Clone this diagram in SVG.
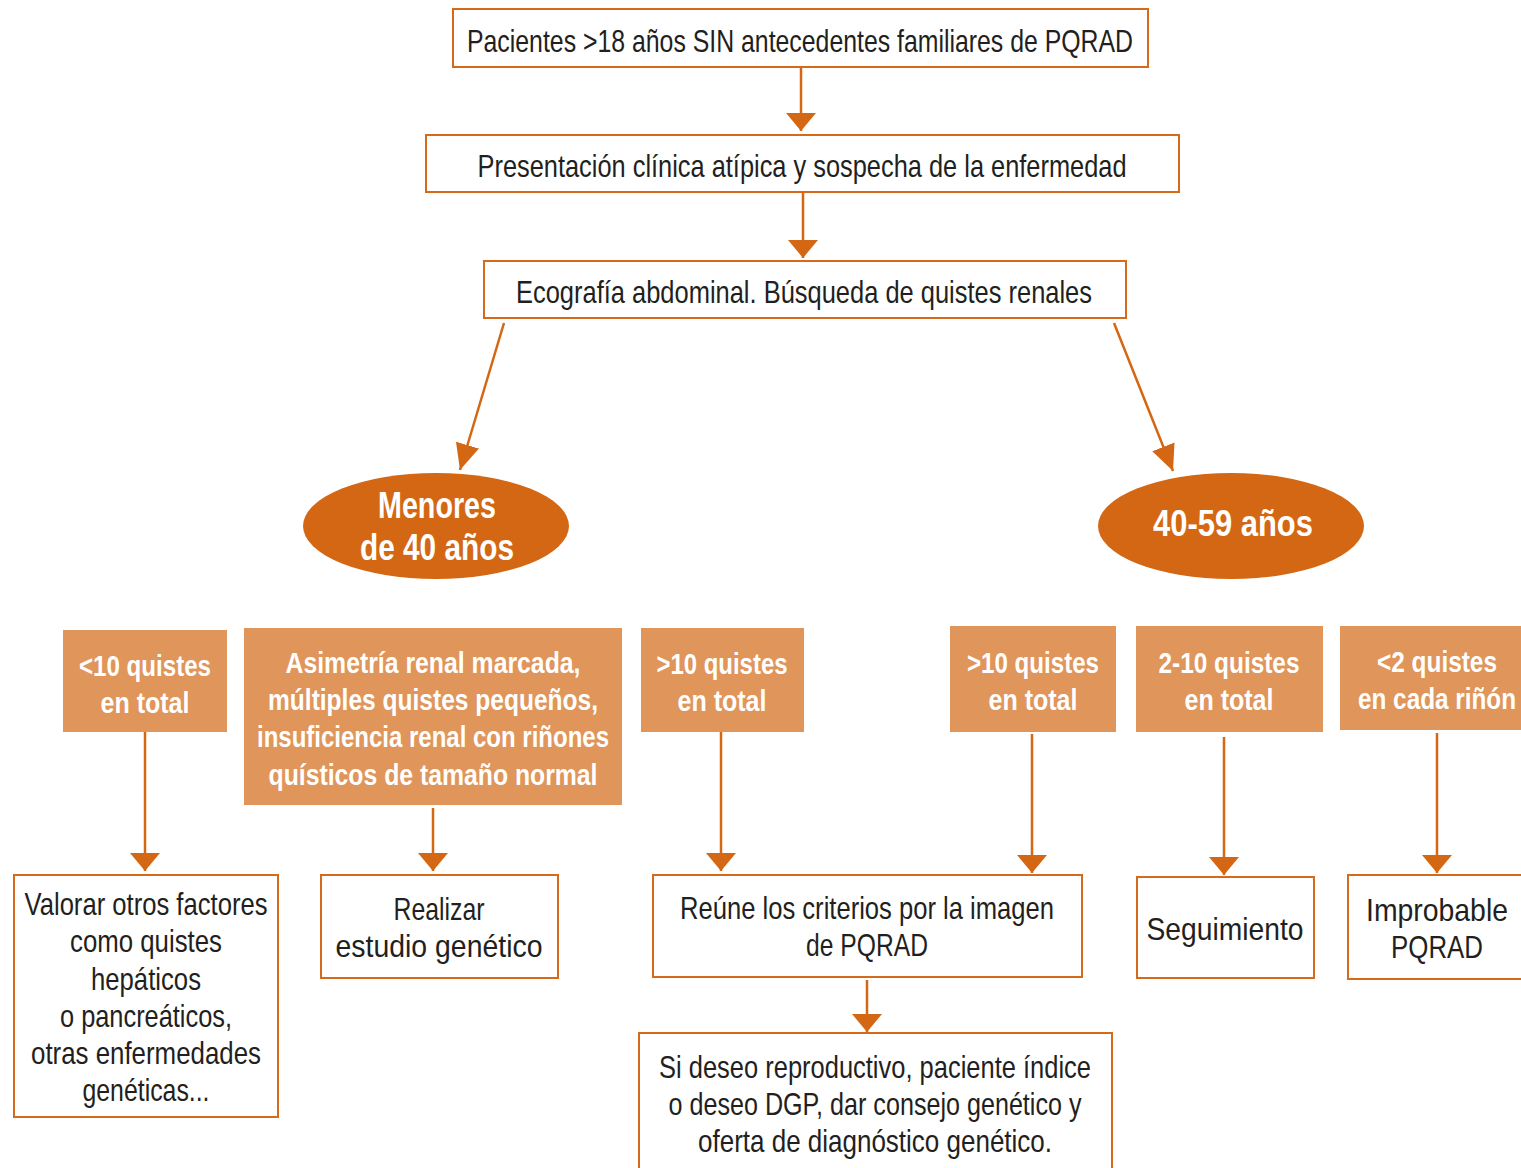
<svg xmlns="http://www.w3.org/2000/svg" width="1521" height="1168" viewBox="0 0 1521 1168">
<defs>
<style>
.wb{fill:#fff;stroke:#D46A1A;stroke-width:2}
.lb{fill:#E0955A}
.el{fill:#D46713}
.t{font-family:"Liberation Sans",Arial,sans-serif;font-size:32px;fill:#231F20;text-anchor:middle}
.tw{font-family:"Liberation Sans",Arial,sans-serif;font-size:30px;fill:#fff;text-anchor:middle;font-weight:bold}
.te{font-family:"Liberation Sans",Arial,sans-serif;font-size:36px;fill:#fff;text-anchor:middle;font-weight:bold}
.c{stroke:#D46713;stroke-width:2.5;fill:none}
</style>
<marker id="ah" viewBox="0 0 18 30" refX="18" refY="15" markerWidth="18" markerHeight="30" markerUnits="userSpaceOnUse" orient="auto">
<path d="M0,0 L18,15 L0,30 Z" fill="#D46713"/>
</marker>
<marker id="ad" viewBox="0 0 26 24" refX="26" refY="12" markerWidth="26" markerHeight="24" markerUnits="userSpaceOnUse" orient="auto">
<path d="M0,0 L26,12 L0,24 Z" fill="#D46713"/>
</marker>
</defs>

<g id="connectors">
<line class="c" x1="801" y1="67" x2="801" y2="131" marker-end="url(#ah)"/>
<line class="c" x1="803" y1="192" x2="803" y2="258" marker-end="url(#ah)"/>
<line class="c" x1="504" y1="323" x2="460" y2="470" marker-end="url(#ad)"/>
<line class="c" x1="1114" y1="323" x2="1173" y2="471" marker-end="url(#ad)"/>
<line class="c" x1="145" y1="732" x2="145" y2="871" marker-end="url(#ah)"/>
<line class="c" x1="433" y1="808" x2="433" y2="871" marker-end="url(#ah)"/>
<line class="c" x1="721" y1="732" x2="721" y2="871" marker-end="url(#ah)"/>
<line class="c" x1="1032" y1="734" x2="1032" y2="873" marker-end="url(#ah)"/>
<line class="c" x1="1224" y1="737" x2="1224" y2="875" marker-end="url(#ah)"/>
<line class="c" x1="1437" y1="733" x2="1437" y2="873" marker-end="url(#ah)"/>
<line class="c" x1="867" y1="980" x2="867" y2="1032" marker-end="url(#ah)"/>
</g>

<g id="n1">
<rect class="wb" x="453" y="9" width="695" height="58"/>
<text class="t" x="800" y="52" textLength="666" lengthAdjust="spacingAndGlyphs">Pacientes &gt;18 años SIN antecedentes familiares de PQRAD</text>
</g>
<g id="n2">
<rect class="wb" x="426" y="135" width="753" height="57"/>
<text class="t" x="802" y="177" textLength="649" lengthAdjust="spacingAndGlyphs">Presentación clínica atípica y sospecha de la enfermedad</text>
</g>
<g id="n3">
<rect class="wb" x="484" y="261" width="642" height="57"/>
<text class="t" x="804" y="303" textLength="576" lengthAdjust="spacingAndGlyphs">Ecografía abdominal. Búsqueda de quistes renales</text>
</g>

<g id="e1">
<ellipse class="el" cx="436" cy="526" rx="133" ry="53"/>
<text class="te" x="437" y="518" textLength="118" lengthAdjust="spacingAndGlyphs">Menores</text>
<text class="te" x="437" y="560" textLength="154" lengthAdjust="spacingAndGlyphs">de 40 años</text>
</g>
<g id="e2">
<ellipse class="el" cx="1231" cy="526" rx="133" ry="53"/>
<text class="te" x="1233" y="536" textLength="160" lengthAdjust="spacingAndGlyphs">40-59 años</text>
</g>

<g id="a">
<rect class="lb" x="63" y="630" width="164" height="102"/>
<text class="tw" x="145" y="676" textLength="132" lengthAdjust="spacingAndGlyphs">&lt;10 quistes</text>
<text class="tw" x="145" y="713" textLength="89" lengthAdjust="spacingAndGlyphs">en total</text>
</g>
<g id="b">
<rect class="lb" x="244" y="628" width="378" height="177"/>
<text class="tw" x="433" y="673" textLength="295" lengthAdjust="spacingAndGlyphs">Asimetría renal marcada,</text>
<text class="tw" x="433" y="710" textLength="330" lengthAdjust="spacingAndGlyphs">múltiples quistes pequeños,</text>
<text class="tw" x="433" y="747" textLength="352" lengthAdjust="spacingAndGlyphs">insuficiencia renal con riñones</text>
<text class="tw" x="433" y="785" textLength="329" lengthAdjust="spacingAndGlyphs">quísticos de tamaño normal</text>
</g>
<g id="c">
<rect class="lb" x="641" y="628" width="163" height="104"/>
<text class="tw" x="722" y="674" textLength="131" lengthAdjust="spacingAndGlyphs">&gt;10 quistes</text>
<text class="tw" x="722" y="711" textLength="89" lengthAdjust="spacingAndGlyphs">en total</text>
</g>
<g id="d">
<rect class="lb" x="950" y="626" width="166" height="106"/>
<text class="tw" x="1033" y="673" textLength="132" lengthAdjust="spacingAndGlyphs">&gt;10 quistes</text>
<text class="tw" x="1033" y="710" textLength="89" lengthAdjust="spacingAndGlyphs">en total</text>
</g>
<g id="e">
<rect class="lb" x="1136" y="626" width="187" height="106"/>
<text class="tw" x="1229" y="673" textLength="141" lengthAdjust="spacingAndGlyphs">2-10 quistes</text>
<text class="tw" x="1229" y="710" textLength="89" lengthAdjust="spacingAndGlyphs">en total</text>
</g>
<g id="f">
<rect class="lb" x="1340" y="626" width="181" height="104"/>
<text class="tw" x="1437" y="672" textLength="120" lengthAdjust="spacingAndGlyphs">&lt;2 quistes</text>
<text class="tw" x="1437" y="709" textLength="158" lengthAdjust="spacingAndGlyphs">en cada riñón</text>
</g>

<g id="v">
<rect class="wb" x="14" y="875" width="264" height="242"/>
<text class="t" x="146" y="915" textLength="243" lengthAdjust="spacingAndGlyphs">Valorar otros factores</text>
<text class="t" x="146" y="952" textLength="152" lengthAdjust="spacingAndGlyphs">como quistes</text>
<text class="t" x="146" y="990" textLength="110" lengthAdjust="spacingAndGlyphs">hepáticos</text>
<text class="t" x="146" y="1027" textLength="172" lengthAdjust="spacingAndGlyphs">o pancreáticos,</text>
<text class="t" x="146" y="1064" textLength="230" lengthAdjust="spacingAndGlyphs">otras enfermedades</text>
<text class="t" x="146" y="1101" textLength="127" lengthAdjust="spacingAndGlyphs">genéticas...</text>
</g>
<g id="r">
<rect class="wb" x="321" y="875" width="237" height="103"/>
<text class="t" x="439" y="920" textLength="91" lengthAdjust="spacingAndGlyphs">Realizar</text>
<text class="t" x="439" y="957" textLength="207" lengthAdjust="spacingAndGlyphs">estudio genético</text>
</g>
<g id="re">
<rect class="wb" x="653" y="875" width="429" height="102"/>
<text class="t" x="867" y="919" textLength="374" lengthAdjust="spacingAndGlyphs">Reúne los criterios por la imagen</text>
<text class="t" x="867" y="956" textLength="122" lengthAdjust="spacingAndGlyphs">de PQRAD</text>
</g>
<g id="s">
<rect class="wb" x="1137" y="877" width="177" height="101"/>
<text class="t" x="1225" y="940" textLength="157" lengthAdjust="spacingAndGlyphs">Seguimiento</text>
</g>
<g id="i">
<rect class="wb" x="1348" y="875" width="180" height="104"/>
<text class="t" x="1437" y="921" textLength="142" lengthAdjust="spacingAndGlyphs">Improbable</text>
<text class="t" x="1437" y="958" textLength="92" lengthAdjust="spacingAndGlyphs">PQRAD</text>
</g>
<g id="si">
<rect class="wb" x="639" y="1033" width="473" height="140"/>
<text class="t" x="875" y="1078" textLength="432" lengthAdjust="spacingAndGlyphs">Si deseo reproductivo, paciente índice</text>
<text class="t" x="875" y="1115" textLength="413" lengthAdjust="spacingAndGlyphs">o deseo DGP, dar consejo genético y</text>
<text class="t" x="875" y="1152" textLength="354" lengthAdjust="spacingAndGlyphs">oferta de diagnóstico genético.</text>
</g>
</svg>
